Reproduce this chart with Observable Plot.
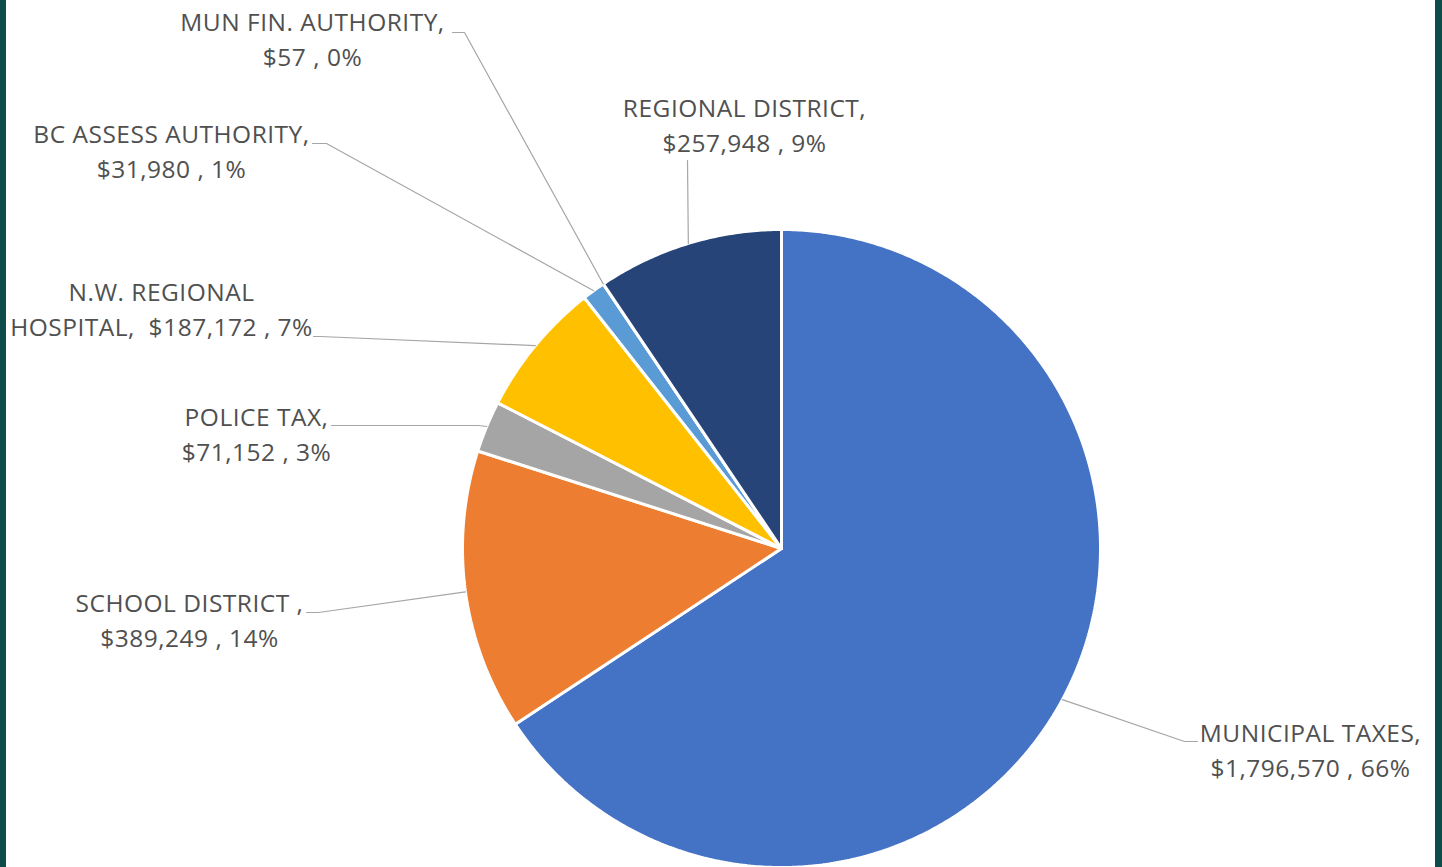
<!DOCTYPE html>
<html>
<head>
<meta charset="utf-8">
<script src="https://cdn.jsdelivr.net/npm/d3@7"></script>
<script src="https://cdn.jsdelivr.net/npm/@observablehq/plot@0.6"></script>
<style>
  html, body { margin: 0; padding: 0; background: #ffffff; }
  #wrap { position: relative; width: 1442px; height: 867px; overflow: hidden; background: #ffffff; }
  #chart { position: absolute; left: 0; top: 0; }
  .bar { position: absolute; top: 0; height: 867px; background: #0e4c4a; }
</style>
</head>
<body>
<div id="wrap">
  <div id="chart"></div>
  <div class="bar" style="left:0;width:6px"></div>
  <div class="bar" style="left:1435px;width:7px"></div>
</div>
<script>
// ---- data ----
const categories = ["MUNICIPAL TAXES", "SCHOOL DISTRICT", "POLICE TAX", "N.W. REGIONAL HOSPITAL", "BC ASSESS AUTHORITY", "MUN FIN. AUTHORITY", "REGIONAL DISTRICT"];
const amounts = [1796570, 389249, 71152, 187172, 31980, 57, 257948];
const colors = ["#4472C4", "#ED7D31", "#A5A5A5", "#FFC000", "#5B9BD5", "#70AD47", "#264478"];
// how each label's category part is written and broken
const labelHeads = ["MUNICIPAL TAXES,\n", "SCHOOL DISTRICT ,\n", "POLICE TAX,\n", "N.W. REGIONAL\nHOSPITAL,  ", "BC ASSESS AUTHORITY,\n", "MUN FIN. AUTHORITY,\n", "REGIONAL DISTRICT,\n"];

// ---- layout (positions only) ----
const CX = 781, CY = 548, R = 319;
const labelPos = [[1310, 747.5], [189, 618], [256, 431.5], [161, 306.5], [171, 148.5], [312, 36.5], [744, 122.5]];
const leaderStart = [[1197, 741], [306, 612], [331, 425], [313, 336], [312, 143], [452, 32], [687, 160]];
const leaderElbow = [[1184, 741], [318, 612], [478, 425], [320, 336], [326, 143], [464, 32], [687, 160]];

const total = d3.sum(amounts);
const rows = categories.map((c, i) => ({name: c, value: amounts[i], color: colors[i], i}));
const arcs = d3.pie().sort(null).value(d => d.value).startAngle(0).endAngle(2 * Math.PI)(rows);

const pt = (a, r) => ({x: CX + r * Math.sin(a), y: CY - r * Math.cos(a)});

const sliceMarks = arcs.map(a => {
  const pts = [pt(0, 0)];
  const n = Math.max(2, Math.ceil((a.endAngle - a.startAngle) / (Math.PI / 360)));
  for (let k = 0; k <= n; k++) pts.push(pt(a.startAngle + (a.endAngle - a.startAngle) * k / n, R));
  pts.push(pt(0, 0));
  return Plot.line(pts, {x: "x", y: "y", fill: a.data.color, stroke: "#ffffff", strokeWidth: 3, strokeLinejoin: "miter"});
});

const leaderMarks = arcs.map((a, i) => {
  const mid = (a.startAngle + a.endAngle) / 2;
  const end = pt(mid, R);
  const pts = [{x: leaderStart[i][0], y: leaderStart[i][1]}, {x: leaderElbow[i][0], y: leaderElbow[i][1]}, end];
  return Plot.line(pts, {x: "x", y: "y", stroke: "#a6a6a6", strokeWidth: 1.2});
});

const fmt = d3.format("$,");
const labels = rows.map((d, i) => ({
  x: labelPos[i][0], y: labelPos[i][1],
  text: labelHeads[i] + fmt(d.value) + " , " + Math.round(d.value / total * 100) + "%"
}));

const chart = Plot.plot({
  width: 1442,
  height: 867,
  margin: 0,
  style: {background: "transparent", fontFamily: "'Open Sans', sans-serif", letterSpacing: "0.5px"},
  x: {domain: [0, 1442], range: [0, 1442], axis: null},
  y: {domain: [0, 867], range: [0, 867], axis: null},
  marks: [
    ...sliceMarks,
    ...leaderMarks,
    Plot.text(labels, {x: "x", y: "y", text: "text", fontSize: 24.5, fill: "#505050", lineHeight: 1.43, textAnchor: "middle", lineAnchor: "middle", fontFamily: "'Open Sans', sans-serif"})
  ]
});
document.getElementById("chart").appendChild(chart);
</script>
</body>
</html>
